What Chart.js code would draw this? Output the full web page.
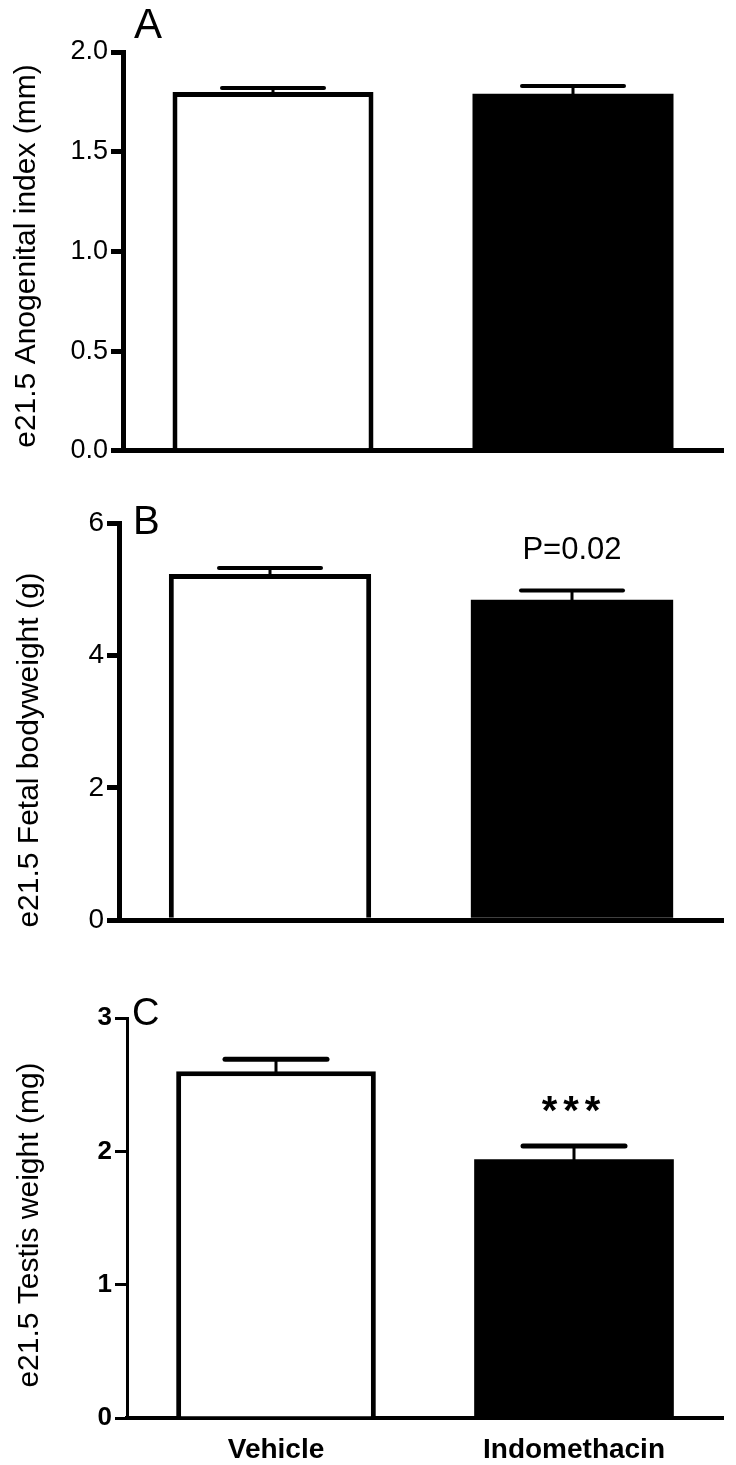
<!DOCTYPE html>
<html>
<head>
<meta charset="utf-8">
<script src="https://cdn.jsdelivr.net/npm/chart.js@4.4.1/dist/chart.umd.min.js"></script>
<style>
  body { margin: 0; background: #fff; }
  #wrap { position: relative; width: 736px; height: 1465px; }
  canvas { position: absolute; left: 0; }
</style>
</head>
<body>
<div id="wrap">
  <canvas id="chart-a" width="736" height="470" style="top:0"></canvas>
  <canvas id="chart-b" width="736" height="470" style="top:470px"></canvas>
  <canvas id="chart-c" width="736" height="525" style="top:940px"></canvas>
</div>
<script>
// groups on the x axis
const groups = ['Vehicle', 'Indomethacin'];

// A: anogenital index (mm), mean and SEM
const agiMean = [1.80, 1.79];
const agiSem = [0.02, 0.04];
const agiTicks = [0, 0.5, 1.0, 1.5, 2.0];

// B: fetal bodyweight (g)
const bwMean = [5.23, 4.84];
const bwSem = [0.09, 0.14];
const bwTicks = [0, 2, 4, 6];

// C: testis weight (mg)
const twMean = [2.60, 1.94];
const twSem = [0.09, 0.10];
const twTicks = [0, 1, 2, 3];

const fillColors = ['#ffffff', '#000000'];

// draws the SEM whiskers, the y title, the panel letter and the significance note
const errorBarPlugin = {
    id: 'errorBars',
    afterDatasetsDraw(chart, args, opts) {
        const { ctx } = chart;
        const meta = chart.getDatasetMeta(0);
        const ds = chart.data.datasets[0];
        const y = chart.scales.y;
        ctx.save();
        ctx.strokeStyle = '#000';
        ctx.fillStyle = '#000';
        ctx.lineCap = 'round';
        meta.data.forEach((bar, i) => {
            const top = y.getPixelForValue(ds.data[i]);
            const cap = y.getPixelForValue(ds.data[i] + ds.sem[i]);
            ctx.lineWidth = opts.stemWidth;
            ctx.beginPath();
            ctx.moveTo(bar.x, top);
            ctx.lineTo(bar.x, cap);
            ctx.stroke();
            ctx.lineWidth = opts.capWidth;
            ctx.beginPath();
            ctx.moveTo(bar.x - opts.capHalf, cap);
            ctx.lineTo(bar.x + opts.capHalf, cap);
            ctx.stroke();
            if (opts.note && opts.note.index === i) {
                ctx.font = opts.note.font;
                ctx.textAlign = 'center';
                ctx.textBaseline = 'middle';
                ctx.letterSpacing = opts.note.spacing || '0px';
                ctx.fillText(opts.note.text, bar.x, cap - opts.note.gap);
                ctx.letterSpacing = '0px';
            }
        });
        if (opts.letter) {
            ctx.font = opts.letter.font;
            ctx.textAlign = 'left';
            ctx.textBaseline = 'alphabetic';
            ctx.fillText(opts.letter.text, opts.letter.x, opts.letter.y);
        }
        if (opts.yTitle) {
            ctx.save();
            ctx.translate(opts.yTitle.x, opts.yTitle.y);
            ctx.rotate(-Math.PI / 2);
            ctx.font = '30px Liberation Sans, Arial';
            ctx.textAlign = 'center';
            ctx.textBaseline = 'middle';
            ctx.fillText(opts.yTitle.text, 0, 0);
            ctx.restore();
        }
        ctx.restore();
    }
};

function makePanel(id, p) {
    return new Chart(document.getElementById(id), {
        type: 'bar',
        data: {
            labels: groups,
            datasets: [{
                data: p.mean,
                sem: p.sem,
                backgroundColor: fillColors,
                borderColor: '#000',
                borderWidth: [5, 0],
                borderSkipped: 'start',
                barPercentage: 0.67,
                categoryPercentage: 1
            }]
        },
        options: {
            responsive: false,
            animation: false,
            events: [],
            layout: { padding: { left: 0, top: p.top, right: 13, bottom: 0 } },
            scales: {
                x: {
                    grid: { display: false, drawTicks: false },
                    border: { display: true, color: '#000', width: p.xBorder },
                    ticks: {
                        display: p.showLabels,
                        color: '#000',
                        padding: 15,
                        font: { family: 'Liberation Sans, Arial', size: 28, weight: 'bold' }
                    },
                    afterFit: s => { s.height = p.bottomSpace; }
                },
                y: {
                    min: 0,
                    max: p.ticks[p.ticks.length - 1],
                    afterBuildTicks: s => { s.ticks = p.ticks.map(v => ({ value: v })); },
                    grid: { display: true, drawOnChartArea: false, drawTicks: true, tickLength: 12, lineWidth: p.yBorder, color: '#000' },
                    border: { display: true, color: '#000', width: p.yBorder },
                    ticks: {
                        color: '#000',
                        padding: 3,
                        font: { family: 'Liberation Sans, Arial', size: p.tickSize, weight: p.tickWeight },
                        callback: v => v.toFixed(p.decimals)
                    },
                    afterFit: s => { s.width = p.left; }
                }
            },
            plugins: {
                legend: { display: false },
                tooltip: { enabled: false },
                errorBars: {
                    stemWidth: 3,
                    capWidth: p.capWidth,
                    capHalf: 51,
                    note: p.note,
                    letter: p.letter,
                    yTitle: p.yTitle
                }
            }
        },
        plugins: [errorBarPlugin]
    });
}

makePanel('chart-a', {
    mean: agiMean, sem: agiSem, ticks: agiTicks, decimals: 1,
    left: 123, top: 52, bottomSpace: 17,
    xBorder: 5, yBorder: 5, capWidth: 4,
    tickSize: 27, tickWeight: 'normal', showLabels: false,
    yTitle: { text: 'e21.5 Anogenital index (mm)', x: 27, y: 256 },
    letter: { text: 'A', x: 134, y: 38, font: '42px Liberation Sans, Arial' }
});

makePanel('chart-b', {
    mean: bwMean, sem: bwSem, ticks: bwTicks, decimals: 0,
    left: 119, top: 53, bottomSpace: 17,
    xBorder: 5, yBorder: 5, capWidth: 4,
    tickSize: 28, tickWeight: 'normal', showLabels: false,
    yTitle: { text: 'e21.5 Fetal bodyweight (g)', x: 30, y: 280 },
    note: { index: 1, text: 'P=0.02', gap: 40, font: '31px Liberation Sans, Arial' },
    letter: { text: 'B', x: 133, y: 64, font: '40px Liberation Sans, Arial' }
});

makePanel('chart-c', {
    mean: twMean, sem: twSem, ticks: twTicks, decimals: 0,
    left: 127, top: 78, bottomSpace: 47,
    xBorder: 4, yBorder: 3, capWidth: 5,
    tickSize: 26, tickWeight: 'bold', showLabels: true,
    yTitle: { text: 'e21.5 Testis weight (mg)', x: 30, y: 285 },
    note: { index: 1, text: '***', gap: 33, font: 'bold 40px Liberation Sans, Arial', spacing: '6px' },
    letter: { text: 'C', x: 132, y: 85, font: '38px Liberation Sans, Arial' }
});
</script>
</body>
</html>
